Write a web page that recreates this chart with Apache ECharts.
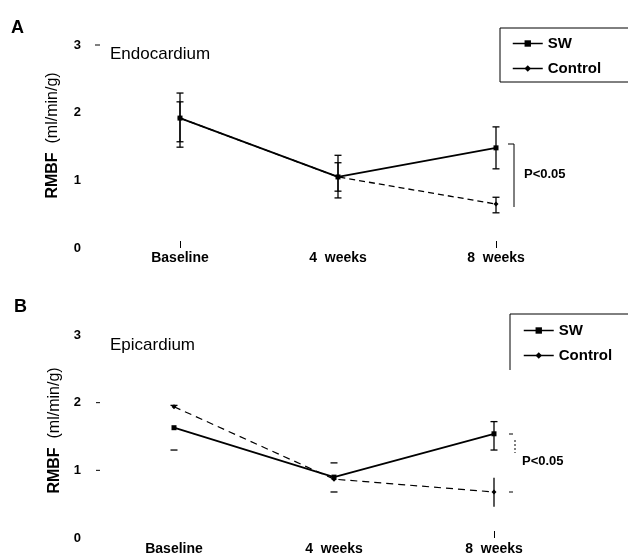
<!DOCTYPE html>
<html>
<head>
<meta charset="utf-8">
<script src="https://cdn.jsdelivr.net/npm/echarts@6/dist/echarts.min.js"></script>
<style>
html,body{margin:0;padding:0;background:#fff;}
#chart{width:628px;height:557px;}
</style>
</head>
<body>
<div id="chart"></div>
<script>
// ---- data ----
const categories = ['Baseline', '4  weeks', '8  weeks'];
const yTickValues = [0, 1, 2, 3];

// Panel A: Endocardium
const endoSW = [1.92, 1.05, 1.48];
const endoSWUpper = [2.29, 1.37, 1.79];
const endoSWLower = [1.49, 0.74, 1.17];
const endoCtrl = [1.92, 1.05, 0.65];
const endoCtrlUpper = [2.16, 1.26, 0.75];
const endoCtrlLower = [1.57, 0.84, 0.52];

// Panel B: Epicardium
const epiSW = [1.63, 0.90, 1.54];
const epiSWUpper = [1.96, 1.11, 1.72];
const epiSWLower = [1.30, 0.68, 1.30];
const epiCtrl = [1.94, 0.87, 0.68];
const epiCtrlUpper = [2.23, 1.11, 0.89];
const epiCtrlLower = [1.65, 0.68, 0.46];

const yTickMarksA = [3];
const yTickMarksB = [2, 1];

// ---- chart ----
const FONT = '"Liberation Sans", Arial, sans-serif';
const chart = echarts.init(document.getElementById('chart'), null, {renderer: 'canvas'});

const GRID_A = {left: 101, top: 45, width: 474, height: 203};
const GRID_B = {left: 94, top: 335, width: 480, height: 203};

function errorSeries(gi, lowers, uppers, stemRule, capW) {
  return {
    type: 'custom', xAxisIndex: gi, yAxisIndex: gi, z: 3, silent: true,
    data: categories.map((c, i) => [i, lowers[i], uppers[i]]),
    renderItem(params, api) {
      const idx = api.value(0);
      const lo = api.coord([idx, api.value(1)]);
      const hi = api.coord([idx, api.value(2)]);
      const st = {stroke: '#000', lineWidth: 1.3};
      const ch = [];
      if (stemRule(idx)) ch.push({type: 'line', shape: {x1: lo[0], y1: lo[1], x2: hi[0], y2: hi[1]}, style: st});
      ch.push({type: 'line', shape: {x1: lo[0] - capW, y1: lo[1], x2: lo[0] + capW, y2: lo[1]}, style: st});
      ch.push({type: 'line', shape: {x1: hi[0] - capW, y1: hi[1], x2: hi[0] + capW, y2: hi[1]}, style: st});
      return {type: 'group', children: ch};
    }
  };
}

function yTickSeries(gi, vals, x1, x2) {
  return {
    type: 'custom', xAxisIndex: gi, yAxisIndex: gi, silent: true, clip: false,
    data: vals.map(v => [0, v]),
    renderItem(params, api) {
      const p = api.coord([0, api.value(1)]);
      return {type: 'line', shape: {x1: x1, y1: p[1], x2: x2, y2: p[1]}, style: {stroke: '#000', lineWidth: 1}};
    }
  };
}

function xAxis(gi, tickShow, margin) {
  return {
    type: 'category', gridIndex: gi, data: categories, boundaryGap: true,
    axisLine: {show: false},
    axisTick: {show: true, inside: true, length: 7, alignWithLabel: true,
      interval: (i) => tickShow.includes(i), lineStyle: {color: '#000', width: 1}},
    axisLabel: {color: '#000', fontFamily: FONT, fontWeight: 'bold', fontSize: 14, margin: margin},
    splitLine: {show: false}
  };
}

function yAxis(gi, margin, nameGap, padding) {
  return {
    type: 'value', gridIndex: gi, min: 0, max: 3, interval: 1,
    axisLine: {show: false}, axisTick: {show: false}, splitLine: {show: false},
    axisLabel: {color: '#000', fontFamily: FONT, fontWeight: 'bold', fontSize: 13, margin: margin},
    name: '{b|RMBF}  {n|(ml/min/g)}', nameLocation: 'middle', nameGap: nameGap, nameRotate: 90,
    nameTextStyle: {color: '#000', fontFamily: FONT, fontSize: 16, padding: padding,
      rich: {b: {fontWeight: 'bold', fontSize: 16, fontFamily: FONT, color: '#000'},
             n: {fontSize: 16, fontFamily: FONT, color: '#000'}}}
  };
}

function lineSeries(gi, name, data, symbol, size, lineStyle) {
  return {
    type: 'line', name: name, xAxisIndex: gi, yAxisIndex: gi, data: data,
    symbol: symbol, symbolSize: size, z: name === 'SW' ? 5 : 4,
    itemStyle: {color: '#000'}, lineStyle: Object.assign({color: '#000'}, lineStyle),
    emphasis: {disabled: true}
  };
}

const legendCommon = {
  orient: 'vertical', data: ['SW', 'Control'], selectedMode: false,
  itemWidth: 30, itemHeight: 8, itemGap: 10,
  textStyle: {color: '#000', fontFamily: FONT, fontWeight: 'bold', fontSize: 15},
  lineStyle: {type: 'solid', width: 1.5, color: '#000'}
};

const option = {
  backgroundColor: '#fff',
  animation: false,
  grid: [
    Object.assign({containLabel: false}, GRID_A),
    Object.assign({containLabel: false}, GRID_B)
  ],
  xAxis: [xAxis(0, [0, 2], 3), xAxis(1, [2], 4)],
  yAxis: [yAxis(0, 20, 40, [0, 0, 0, 22]), yAxis(1, 13, 31, [0, 0, 0, 12])],
  legend: [
    Object.assign({}, legendCommon, {left: 500, top: 28, padding: [8, 60, 6, 12],
      borderColor: '#000', borderWidth: 1}),
    Object.assign({}, legendCommon, {left: 510, top: 316, padding: [7, 40, 6, 13]})
  ],
  series: [
    lineSeries(0, 'Control', endoCtrl, 'diamond', 5, {width: 1.3, type: [6, 4]}),
    lineSeries(0, 'SW', endoSW, 'rect', 5, {width: 1.8, type: 'solid'}),
    errorSeries(0, endoSWLower, endoSWUpper, () => true, 3.5),
    errorSeries(0, endoCtrlLower, endoCtrlUpper, () => true, 3.5),
    yTickSeries(0, yTickMarksA, 95, 100),
    lineSeries(1, 'Control', epiCtrl, 'diamond', 5, {width: 1.2, type: [7, 5]}),
    lineSeries(1, 'SW', epiSW, 'rect', 5, {width: 1.8, type: 'solid'}),
    errorSeries(1, epiSWLower, epiSWUpper, (i) => i === 2, 3.5),
    errorSeries(1, epiCtrlLower, epiCtrlUpper, (i) => i === 2, 0),
    yTickSeries(1, yTickMarksB, 96, 100)
  ],
  graphic: [
    {type: 'text', left: 11, top: 19, style: {text: 'A', fontFamily: FONT, fontWeight: 'bold', fontSize: 18, fill: '#000'}},
    {type: 'text', left: 14, top: 298, style: {text: 'B', fontFamily: FONT, fontWeight: 'bold', fontSize: 18, fill: '#000'}},
    {type: 'text', left: 110, top: 46, style: {text: 'Endocardium', fontFamily: FONT, fontSize: 17, fill: '#000'}},
    {type: 'text', left: 110, top: 337, style: {text: 'Epicardium', fontFamily: FONT, fontSize: 17, fill: '#000'}},
    // bracket A
    {type: 'polyline', shape: {points: [[508, 144], [514, 144], [514, 207]]}, style: {stroke: '#000', lineWidth: 1, fill: null}},
    {type: 'text', left: 524, top: 168, style: {text: 'P<0.05', fontFamily: FONT, fontWeight: 'bold', fontSize: 13, fill: '#000'}},
    // bracket B
    {type: 'line', shape: {x1: 509, y1: 434, x2: 513, y2: 434}, style: {stroke: '#000', lineWidth: 1}},
    {type: 'line', shape: {x1: 509, y1: 492, x2: 513, y2: 492}, style: {stroke: '#000', lineWidth: 1}},
    {type: 'line', shape: {x1: 515, y1: 440, x2: 515, y2: 453}, style: {stroke: '#000', lineWidth: 1, lineDash: [2, 2]}},
    {type: 'text', left: 522, top: 455, style: {text: 'P<0.05', fontFamily: FONT, fontWeight: 'bold', fontSize: 13, fill: '#000'}},
    // legend B partial frame
    {type: 'polyline', shape: {points: [[510, 370], [510, 314], [630, 314]]}, style: {stroke: '#000', lineWidth: 1, fill: null}}
  ]
};
chart.setOption(option);
</script>
</body>
</html>
